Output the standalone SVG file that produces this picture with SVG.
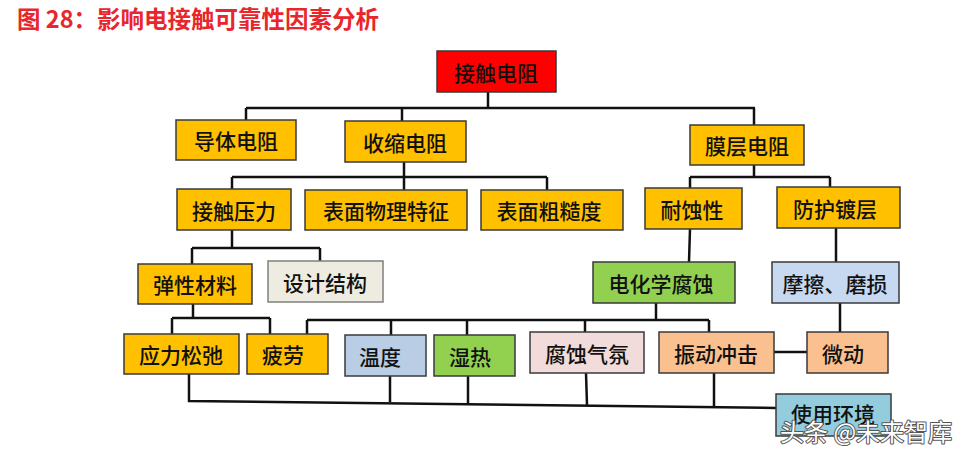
<svg xmlns="http://www.w3.org/2000/svg" width="974" height="456" viewBox="0 0 974 456">
<style>
.b{stroke:#3a3a3a;stroke-width:1.5}
.t{font-family:"Noto Sans CJK SC","Noto Sans CJK JP",sans-serif;font-size:21px;font-weight:500;fill:#111;text-anchor:middle;dominant-baseline:central}
.y{fill:#ffc000}.r{fill:#ff0000}.g{fill:#92d050}.lb{fill:#b9cde5}.lb2{fill:#c6d9f1}.gr{fill:#eeece1;stroke:#7f7f7f}.pk{fill:#f2dcdb}.pe{fill:#fac090}.tl{fill:#93cddd}
.c{fill:none;stroke:#111;stroke-width:2.5}
</style>
<rect width="974" height="456" fill="#fff"/>
<text x="17" y="28" font-family="Noto Sans CJK SC,sans-serif" font-size="23.5" font-weight="bold" fill="#e8262b">图 28：影响电接触可靠性因素分析</text>
<g id="connectors">
<path class="c" d="M488 92V108M246 108H755M246 108V120M402 108V121M754 108V125"/>
<path class="c" d="M404 162V190M232 177H547M232 177V189M547 177V190"/>
<path class="c" d="M754 165V177M690 177H830M690 177V188M830 177V187"/>
<path class="c" d="M232 230V248M192 248H320M192 248V264M320 248V261"/>
<path class="c" d="M690 229L689 262M836 228V262"/>
<path class="c" d="M193 304V318M172 318H270M172 318V334M270 318V334"/>
<path class="c" d="M656 303V320M307 320H709M307 320V334M391 320V335M467 320V335M585 320V332M709 320V332"/>
<path class="c" d="M840 303V332M774 352H807"/>
<path class="c" d="M189 374V401L776 408M390 376V402M468 376V403M586 373L587 405M714 373V406"/>
</g>
<g id="n1"><rect class="b r" x="437" y="51" width="119" height="41"/><text class="t" x="496" y="72">接触电阻</text></g>
<g id="n2"><rect class="b y" x="176" y="120" width="120" height="40"/><text class="t" x="236" y="140">导体电阻</text></g>
<g id="n3"><rect class="b y" x="345" y="121" width="121" height="41"/><text class="t" x="405" y="142">收缩电阻</text></g>
<g id="n4"><rect class="b y" x="690" y="125" width="114" height="40"/><text class="t" x="747" y="145">膜层电阻</text></g>
<g id="n5"><rect class="b y" x="177" y="189" width="114" height="41"/><text class="t" x="234" y="210">接触压力</text></g>
<g id="n6"><rect class="b y" x="305" y="190" width="162" height="40"/><text class="t" x="386" y="210">表面物理特征</text></g>
<g id="n7"><rect class="b y" x="481" y="190" width="142" height="40"/><text class="t" x="549" y="210">表面粗糙度</text></g>
<g id="n8"><rect class="b y" x="645" y="188" width="97" height="41"/><text class="t" x="692" y="209">耐蚀性</text></g>
<g id="n9"><rect class="b y" x="777" y="187" width="123" height="41"/><text class="t" x="835" y="208">防护镀层</text></g>
<g id="n10"><rect class="b y" x="138" y="264" width="114" height="40"/><text class="t" x="195" y="284">弹性材料</text></g>
<g id="n11"><rect class="b gr" x="268" y="261" width="115" height="41"/><text class="t" x="325" y="282">设计结构</text></g>
<g id="n12"><rect class="b g" x="593" y="262" width="142" height="41"/><text class="t" x="661" y="283">电化学腐蚀</text></g>
<g id="n13"><rect class="b lb2" x="772" y="262" width="127" height="41"/><text class="t" x="835" y="283">摩擦、磨损</text></g>
<g id="n14"><rect class="b y" x="124" y="334" width="115" height="40"/><text class="t" x="181" y="354">应力松弛</text></g>
<g id="n15"><rect class="b y" x="247" y="334" width="81" height="40"/><text class="t" x="283" y="354">疲劳</text></g>
<g id="n16"><rect class="b lb" x="345" y="335" width="81" height="41"/><text class="t" x="380" y="356">温度</text></g>
<g id="n17"><rect class="b g" x="434" y="335" width="81" height="41"/><text class="t" x="470" y="356">湿热</text></g>
<g id="n18"><rect class="b pk" x="530" y="332" width="114" height="41"/><text class="t" x="587" y="353">腐蚀气氛</text></g>
<g id="n19"><rect class="b pe" x="659" y="332" width="115" height="41"/><text class="t" x="716" y="353">振动冲击</text></g>
<g id="n20"><rect class="b pe" x="807" y="332" width="81" height="41"/><text class="t" x="843" y="353">微动</text></g>
<g id="n21"><rect class="b tl" x="776" y="394" width="115" height="42"/><text class="t" x="833" y="413">使用环境</text></g>
<text x="780" y="441" font-family="Noto Sans CJK SC,sans-serif" font-size="24" fill="#fff" stroke="#555" stroke-width="2" paint-order="stroke" stroke-linejoin="round">头条 @未来智库</text>
</svg>
